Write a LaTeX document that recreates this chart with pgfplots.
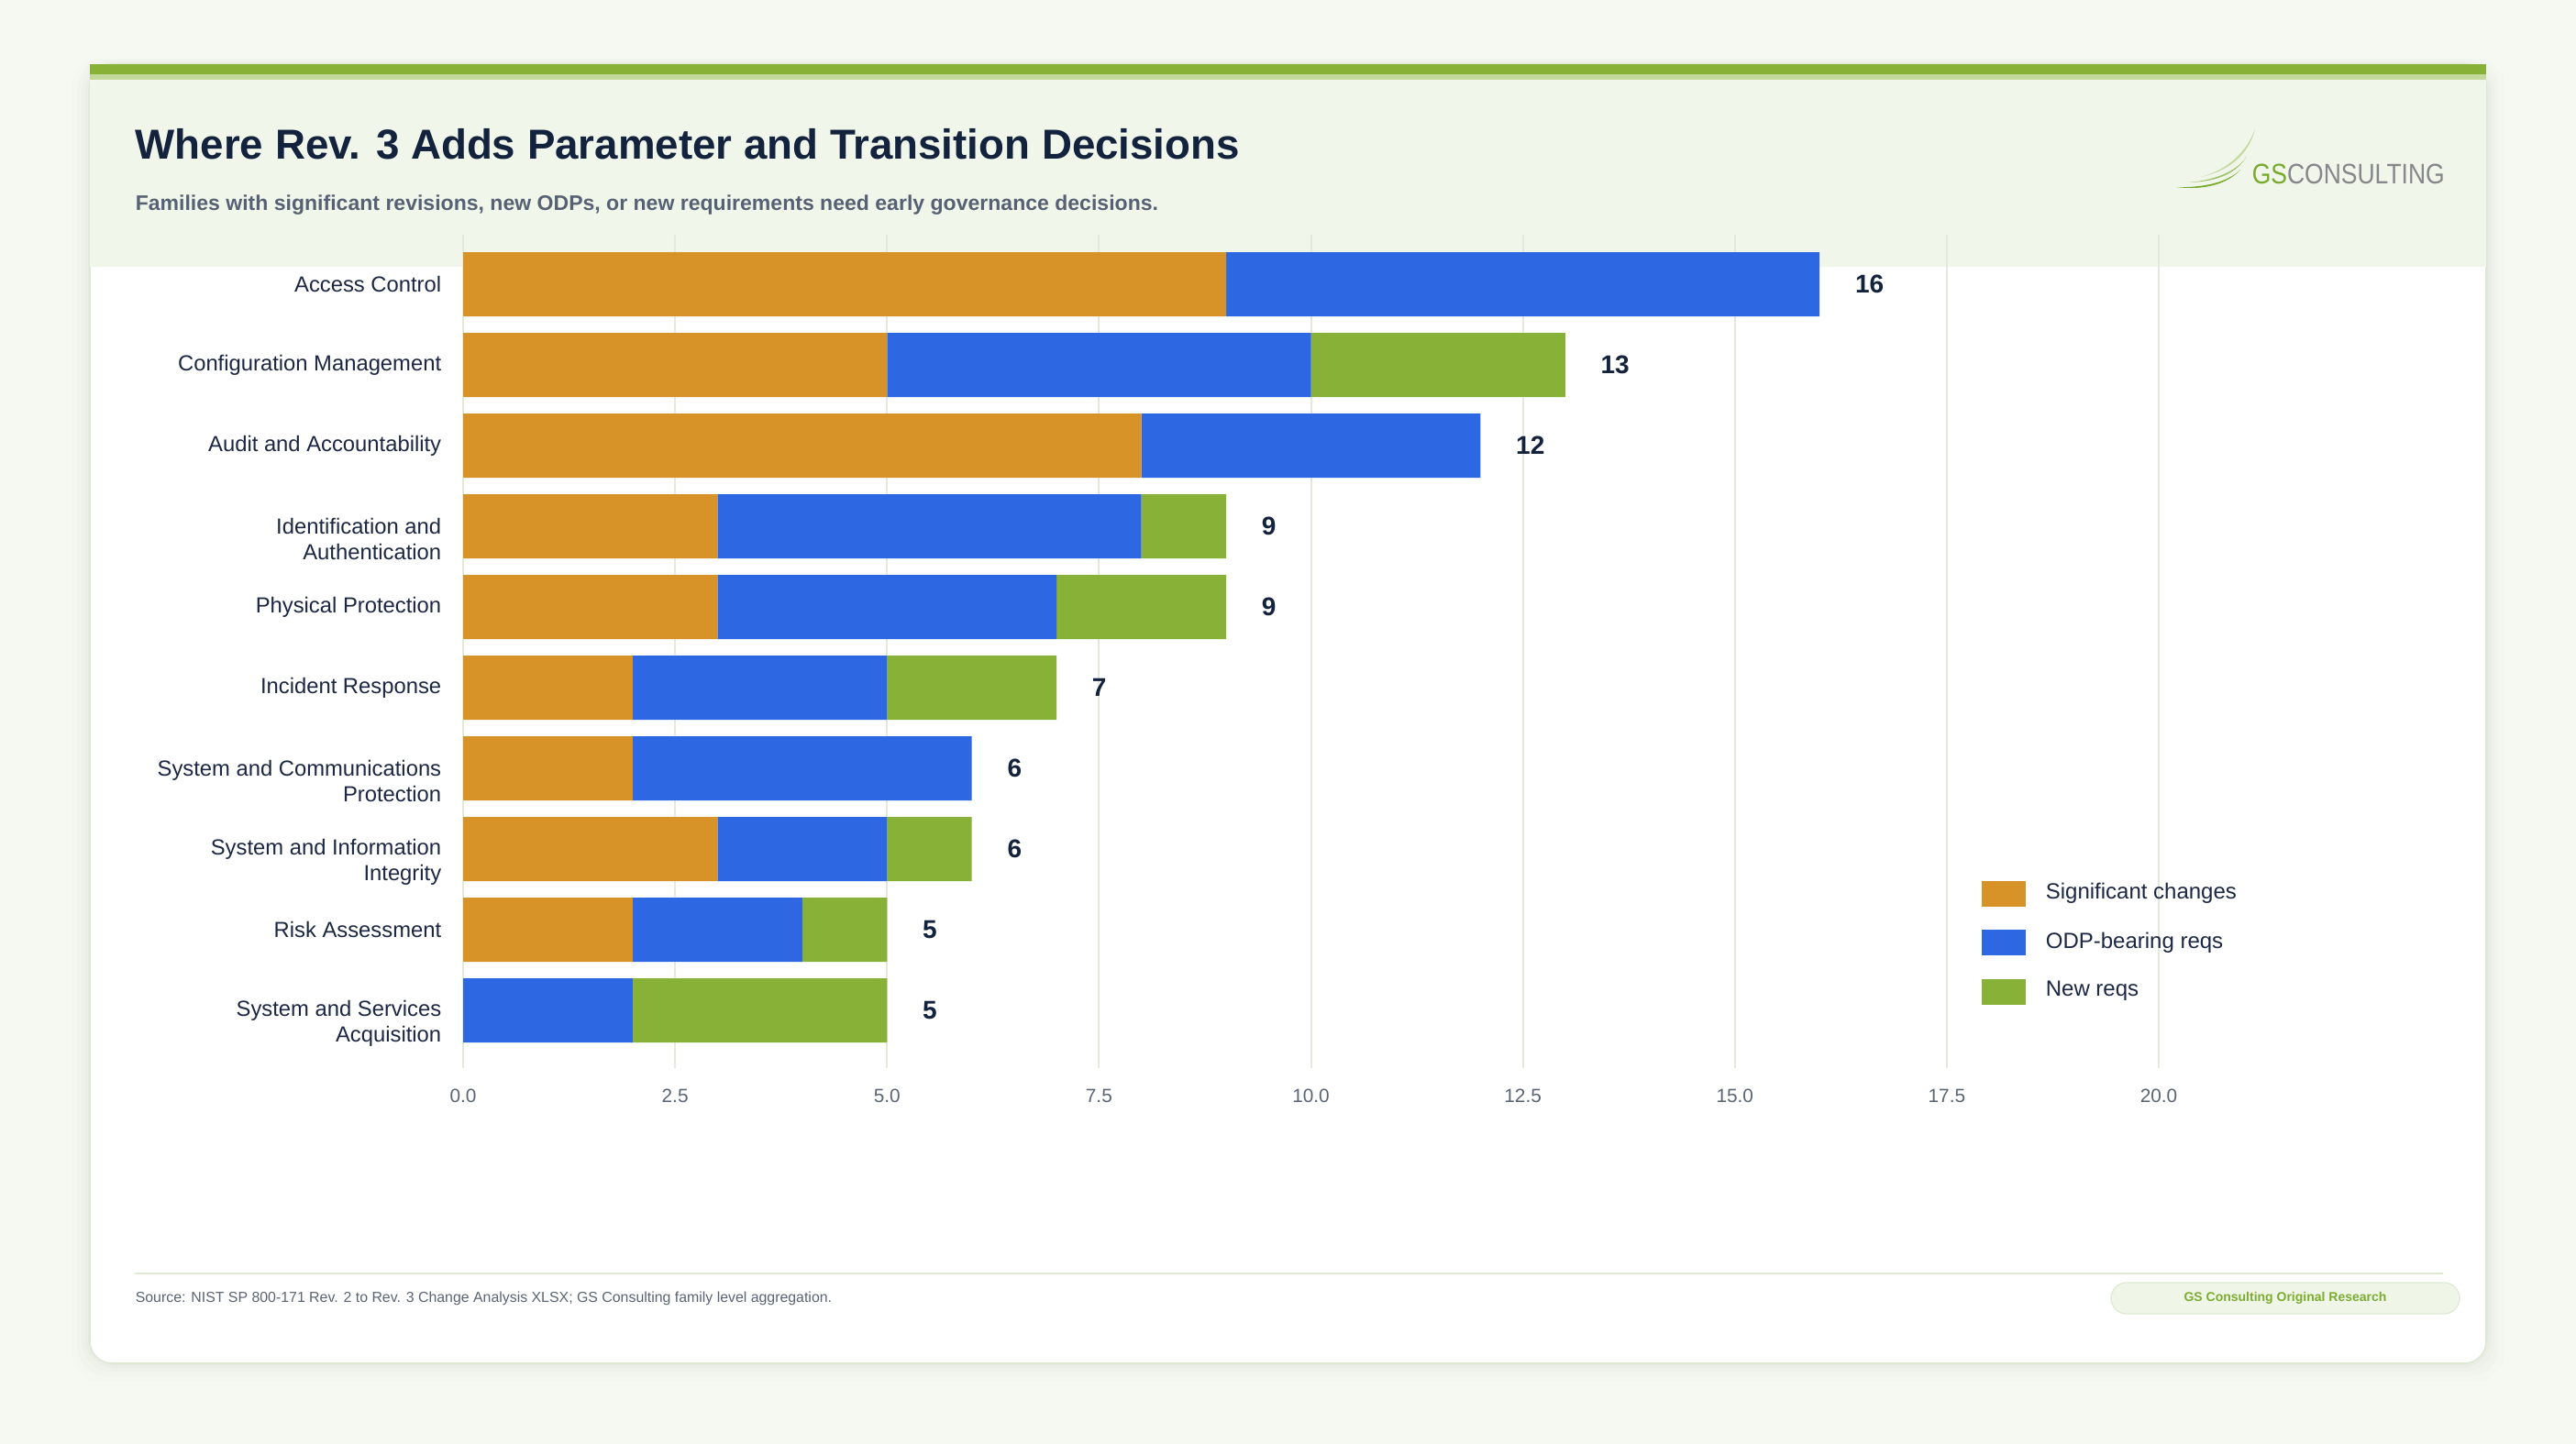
\documentclass[border=0pt]{standalone}
\usepackage{fontspec}
\setmainfont{Liberation Sans}
\usepackage{pgfplots}
\pgfplotsset{compat=1.18}
\usepackage{pgfplotstable}
\definecolor{pagebg}{HTML}{F6F8F2}
\definecolor{cardborder}{HTML}{DDE9D3}
\definecolor{headerbg}{HTML}{F0F6EA}
\definecolor{stripe1}{HTML}{87B137}
\definecolor{stripe2}{HTML}{C2D99B}
\definecolor{titlec}{HTML}{13223D}
\definecolor{subc}{HTML}{566173}
\definecolor{tickc}{HTML}{5A6474}
\definecolor{labc}{HTML}{1B2743}
\definecolor{gridc}{HTML}{E3EADB}
\definecolor{orangec}{HTML}{D79327}
\definecolor{bluec}{HTML}{2D68E2}
\definecolor{greenc}{HTML}{87B137}
\definecolor{logogreen}{HTML}{78AA2C}
\definecolor{logogray}{HTML}{85878A}
\definecolor{badgebg}{HTML}{EFF5E7}
\definecolor{badgetext}{HTML}{7CAD2F}

\pgfplotstableread{
idx sig odp new total
0 9 7 0 16
1 5 5 3 13
2 8 4 0 12
3 3 5 1 9
4 3 4 2 9
5 2 3 2 7
6 2 4 0 6
7 3 2 1 6
8 2 2 1 5
9 0 2 3 5
}\datatable

\newcommand{\tl}{\rule{0pt}{11.5pt}}

\begin{document}
\begin{tikzpicture}
\begin{scope}[x=0.25pt,y=-0.25pt]
\fill[pagebg] (0,0) rectangle (2809,1575);
\foreach \i/\o in {20/0.008,14/0.010,9/0.012,5/0.015,2/0.02}{
  \fill[black, opacity=\o, rounded corners=8pt] (98-\i,70-\i/3) rectangle (2711+\i,1487+\i);
}
\fill[white, rounded corners=6pt] (98,70) rectangle (2711,1487);
\draw[cardborder, line width=0.4pt, rounded corners=6pt] (98,70) rectangle (2711,1487);
\fill[headerbg] (98,87) rectangle (2711,291);
\fill[stripe1] (98,70) rectangle (2711,81);
\fill[stripe2] (98,81) rectangle (2711,87);
\node[anchor=base west, inner sep=0pt, font=\fontsize{11.42}{13}\selectfont\bfseries, text=titlec] at (147,173) {Where Rev. 3 Adds Parameter and Transition Decisions};
\node[anchor=base west, inner sep=0pt, font=\fontsize{5.76}{6.5}\selectfont\bfseries, text=subc] at (147,229) {Families with significant revisions, new ODPs, or new requirements need early governance decisions.};
% logo
\fill[logogreen!45] (2400,193) .. controls (2430,185) and (2450,165) .. (2459,141) .. controls (2452,168) and (2432,186) .. (2400,193) -- cycle;
\fill[logogreen!70] (2387,199) .. controls (2420,196) and (2442,184) .. (2450,170) .. controls (2440,188) and (2420,198) .. (2387,199) -- cycle;
\fill[logogreen] (2373,204) .. controls (2410,205) and (2432,196) .. (2443,185) .. controls (2430,200) and (2405,208) .. (2373,204) -- cycle;
\node[anchor=base west, inner sep=0pt, font=\fontsize{7.7}{8}\selectfont] at (2455,200) {\scalebox{0.86}[1]{\textcolor{logogreen}{GS}\textcolor{logogray}{CONSULTING}}};
% footer
\draw[cardborder, line width=0.5pt] (147,1389) -- (2664,1389);
\node[anchor=west, inner sep=0pt, font=\fontsize{3.97}{5}\selectfont, text=tickc] at (147,1416) {Source: NIST SP 800-171 Rev. 2 to Rev. 3 Change Analysis XLSX; GS Consulting family level aggregation.};
\filldraw[fill=badgebg, draw=cardborder, line width=0.3pt, rounded corners=4.25pt] (2302,1399) rectangle (2682,1433);
\node[inner sep=0pt, font=\fontsize{3.5}{5}\selectfont\bfseries, text=badgetext] at (2492,1416) {GS Consulting Original Research};
\end{scope}

\begin{axis}[
  at={(126.25pt,-64pt)}, anchor=north west,
  scale only axis, width=462.25pt, height=227.25pt,
  xbar stacked, bar width=17.5pt,
  xmin=0, xmax=20, ymin=-0.614, ymax=9.716, y dir=reverse,
  clip=false,
  axis line style={draw=none},
  major tick length=0pt,
  xtick={0,2.5,...,20},
  xmajorgrids, grid style={gridc, line width=0.5pt},
  /pgf/number format/assume math mode=true,
  xticklabel={\pgfmathprintnumber[fixed,fixed zerofill,precision=1]{\tick}},
  xticklabel style={font=\fontsize{5.2}{6}\selectfont, text=tickc, inner sep=0pt, yshift=-5.5pt},
  ytick={0,...,9},
  yticklabels={Access Control, Configuration Management, Audit and Accountability, {\tl Identification and\\Authentication}, Physical Protection, Incident Response, {\tl System and Communications\\Protection}, {\tl System and Information\\Integrity}, Risk Assessment, {\tl System and Services\\Acquisition}},
  yticklabel style={font=\fontsize{5.95}{7}\selectfont, text=labc, align=right, inner sep=0pt, xshift=-5.75pt},
  legend style={draw=none, fill=none, inner sep=0pt, at={(0.8951,0.225)}, anchor=north west,
    font=\fontsize{6.0}{7}\selectfont, text=labc, row sep=6.3pt, column sep=5.5pt,
    nodes={inner sep=0pt}},
  legend cell align=left,
  every axis plot post/.append style={legend image code/.code={\fill[##1] (0pt,-3.5pt) rectangle (12pt,3.5pt);}},
]
\addplot[fill=orangec, draw=none] table[x=sig, y=idx] {\datatable};
\addlegendentry{Significant changes}
\addplot[fill=bluec, draw=none] table[x=odp, y=idx] {\datatable};
\addlegendentry{ODP-bearing reqs}
\addplot[fill=greenc, draw=none] table[x=new, y=idx] {\datatable};
\addlegendentry{New reqs}
\end{axis}

\begin{axis}[
  at={(126.25pt,-64pt)}, anchor=north west,
  scale only axis, width=462.25pt, height=227.25pt,
  xmin=0, xmax=20, ymin=-0.614, ymax=9.716, y dir=reverse,
  clip=false, hide axis,
  /pgf/number format/assume math mode=true,
]
\addplot[draw=none, mark=none, point meta=explicit, nodes near coords,
  nodes near coords style={anchor=west, inner sep=0pt, xshift=9.5pt, font=\fontsize{7.0}{8}\selectfont\bfseries, text=titlec}]
  table[x=total, y=idx, meta=total] {\datatable};
\end{axis}
\pgfresetboundingbox
\path[use as bounding box] (0,0) rectangle (702.25pt,-393.75pt);
\end{tikzpicture}
\end{document}
